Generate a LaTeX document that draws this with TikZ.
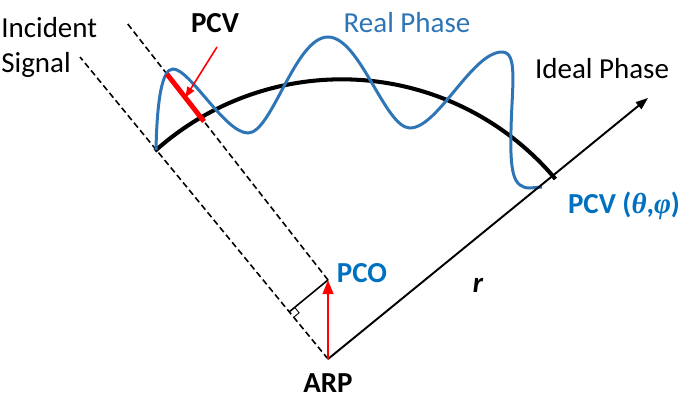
\documentclass[tikz,border=0pt]{standalone}
\usepackage{fontspec}
\setmainfont{Carlito}
\newfontfamily\greekfont{Liberation Serif}
\usetikzlibrary{calc,arrows.meta}
\definecolor{phaseblue}{RGB}{46,117,182}
\definecolor{labelblue}{RGB}{0,112,192}
\colorlet{pcvred}{red}

\begin{document}
\begin{tikzpicture}[x=0.02cm,y=0.02cm,
        font=\fontsize{16.5}{19.8}\selectfont,
        wavefront/.style={black,line width=0.9pt,dash pattern=on 3.5pt off 2pt},
        axis/.style={black,line width=1.1pt},
        idealphase/.style={black,line width=2.3pt},
        realphase/.style={phaseblue,line width=1.7pt},
        lbl/.style={anchor=base,inner sep=0pt},
        boldlbl/.style={lbl,font=\fontsize{16.5}{19.8}\selectfont\bfseries}]
    \useasboundingbox (0,0) rectangle (692,400);
    % reference points
    \coordinate (arp) at (328,41);
    \coordinate (pco) at (328,120);
    \coordinate (tip) at (648,302);
    \coordinate (sig1) at (80,343);
    \coordinate (sig2) at (127,377);
    \coordinate (arcstart) at (155,249);
    % incident signal wavefronts
    \draw[wavefront] (arp) -- (sig1);
    \draw[wavefront] (pco) -- (sig2);
    \coordinate (foot) at ($(arp)!(pco)!(sig1)$);
    \draw[axis,line width=0.9pt] (foot) -- (pco);
    \coordinate (sqa) at ($(foot)!4pt!(arp)$);
    \coordinate (sqc) at ($(foot)!4pt!(pco)$);
    \draw[black,line width=0.5pt] (sqa) -- ($(sqa)+(sqc)-(foot)$) -- (sqc);
    % ideal and real phase
    \draw[idealphase] (arcstart) arc[start angle=132,end angle=40,radius=279];
    \draw[realphase] (156,250) .. controls (157,300) and (162,331) .. (173,331)
        .. controls (190,331) and (225,267) .. (248,267)
        .. controls (272,267) and (295,363) .. (328,363)
        .. controls (360,363) and (385,272) .. (410,272)
        .. controls (438,272) and (472,348) .. (502,348)
        .. controls (518,348) and (512,315) .. (511,270)
        .. controls (510,228) and (513,212) .. (530,212) -- (542,213);
    \draw[axis,-{Triangle[length=7pt,width=5pt]}] (arp) -- (tip);
    \draw[pcvred,line width=1.4pt,-{Triangle[length=8pt,width=6pt]}] (arp) -- (pco);
    % phase centre variation
    \coordinate (pcvlow) at ($(pco)!0.617!(sig2)$);
    \coordinate (pcvhigh) at ($(pco)!0.801!(sig2)$);
    \coordinate (pcvmid) at ($(pco)!0.71!(sig2)$);
    \coordinate (pcvtail) at (217,353);
    \draw[pcvred,line width=2.8pt] (pcvlow) -- (pcvhigh);
    \draw[pcvred,line width=0.9pt,-{Triangle[length=6pt,width=4.5pt]}] (pcvtail) -- (pcvmid);
    % labels
    \node[lbl,anchor=base west] (incident) at (1,363) {Incident};
    \node[lbl,anchor=base west] (signal) at (1,328) {Signal};
    \node[boldlbl] (pcvlabel) at (215,368) {PCV};
    \node[lbl,text=phaseblue] (reallabel) at (407,368) {Real Phase};
    \node[lbl] (ideallabel) at (602,322) {Ideal Phase};
    \node[boldlbl,text=labelblue] (pcvangle) at (624,187) {PCV ({\greekfont\itshape θ},{\greekfont\itshape φ})};
    \node[boldlbl,text=labelblue] (pcolabel) at (362,118) {PCO};
    \node[boldlbl] (arplabel) at (328,8) {ARP};
    \node[boldlbl,font=\fontsize{16.5}{19.8}\selectfont\bfseries\itshape] (rlabel) at (478,108) {r};
\end{tikzpicture}
\end{document}
